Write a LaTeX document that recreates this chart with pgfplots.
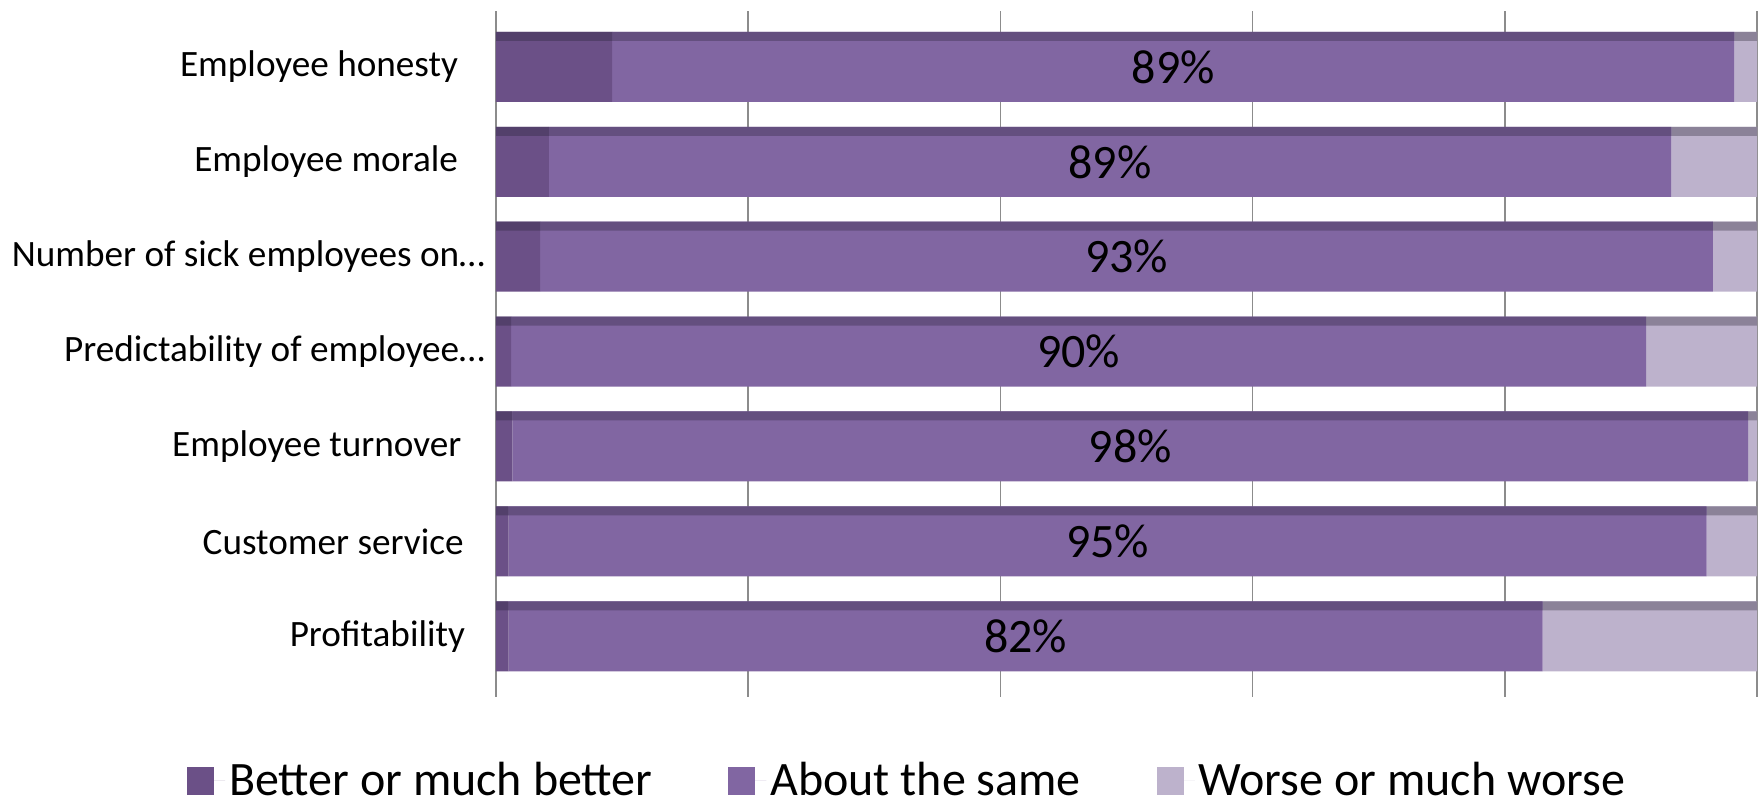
\documentclass[border=0pt]{standalone}
\usepackage{pgfplots}
\pgfplotsset{compat=1.18}
\usepackage{pgfplotstable}
\usepackage{fontspec}
\setmainfont{Carlito}
\definecolor{cbetter}{HTML}{6B5087}
\definecolor{csame}{HTML}{8166A2}
\definecolor{cworse}{HTML}{BDB2CC}
\definecolor{tbetter}{HTML}{53406B}
\definecolor{tsame}{HTML}{644F7F}
\definecolor{tworse}{HTML}{8B8298}
\pgfplotstableread{
y better same worse
6 9.2 89 1.8
5 4.2 89 6.8
4 3.5 93 3.5
3 1.2 90 8.8
2 1.3 98 0.7
1 1.0 95 4.0
0 1.0 82 17
}\datatab
\begin{document}
\begin{tikzpicture}
\path[use as bounding box] (0,0) rectangle (881.5pt,403pt);
\begin{axis}[
  at={(248pt,54.5pt)}, anchor=south west,
  scale only axis, width=630.5pt, height=343pt,
  xbar stacked, bar width=35pt,
  xmin=0, xmax=100, ymin=-0.64, ymax=6.59,
  xtick={0,20,40,60,80,100}, xticklabel=\empty,
  xmajorgrids, grid style={draw=black!45, line width=0.75pt},
  ytick={0,1,2,3,4,5,6},
  yticklabels={Profitability\kern10pt, Customer service\kern10.7pt, Employee turnover\kern11.8pt, Predictability of employee…, Number of sick employees on…, Employee morale\kern13.5pt, Employee honesty\kern13.5pt},
  yticklabel style={font=\fontsize{18.6}{22}\selectfont, anchor=east, xshift=-2pt},
  axis line style={draw=none}, tick style={draw=none},
  /pgf/number format/assume math mode=true,
  legend columns=3,
  legend style={draw=none, at={(0.3267,-0.122)}, anchor=center, inner sep=0pt,
    font=\fontsize{24}{28}\selectfont,
    /tikz/every even column/.append style={column sep=36pt}},
  legend image code/.code={\fill[#1] (0pt,-7pt) rectangle (13.5pt,7pt);\path (0pt,0pt) -- (19pt,0pt);},
]
\addplot[fill=cbetter, draw=none] table[x=better, y=y] {\datatab};
\addlegendentry{Better or much better}
\addplot[fill=csame, draw=none,
  point meta=explicit,
  nodes near coords={\pgfmathprintnumber[fixed,precision=0,assume math mode=true]{\pgfplotspointmeta}\%},
  every node near coord/.append style={anchor=center, font=\fontsize{24}{28}\selectfont, text=black},
] table[x=same, y=y, meta=same] {\datatab};
\addlegendentry{About the same}
\addplot[fill=cworse, draw=none] table[x=worse, y=y] {\datatab};
\addlegendentry{Worse or much worse}
\end{axis}
\begin{axis}[
  at={(248pt,54.5pt)}, anchor=south west,
  scale only axis, width=630.5pt, height=343pt,
  xbar stacked, bar width=4.5pt, bar shift=15.25pt,
  xmin=0, xmax=100, ymin=-0.64, ymax=6.59,
  hide axis,
]
\addplot[fill=tbetter, draw=none] table[x=better, y=y] {\datatab};
\addplot[fill=tsame, draw=none] table[x=same, y=y] {\datatab};
\addplot[fill=tworse, draw=none] table[x=worse, y=y] {\datatab};
\end{axis}
\end{tikzpicture}
\end{document}
